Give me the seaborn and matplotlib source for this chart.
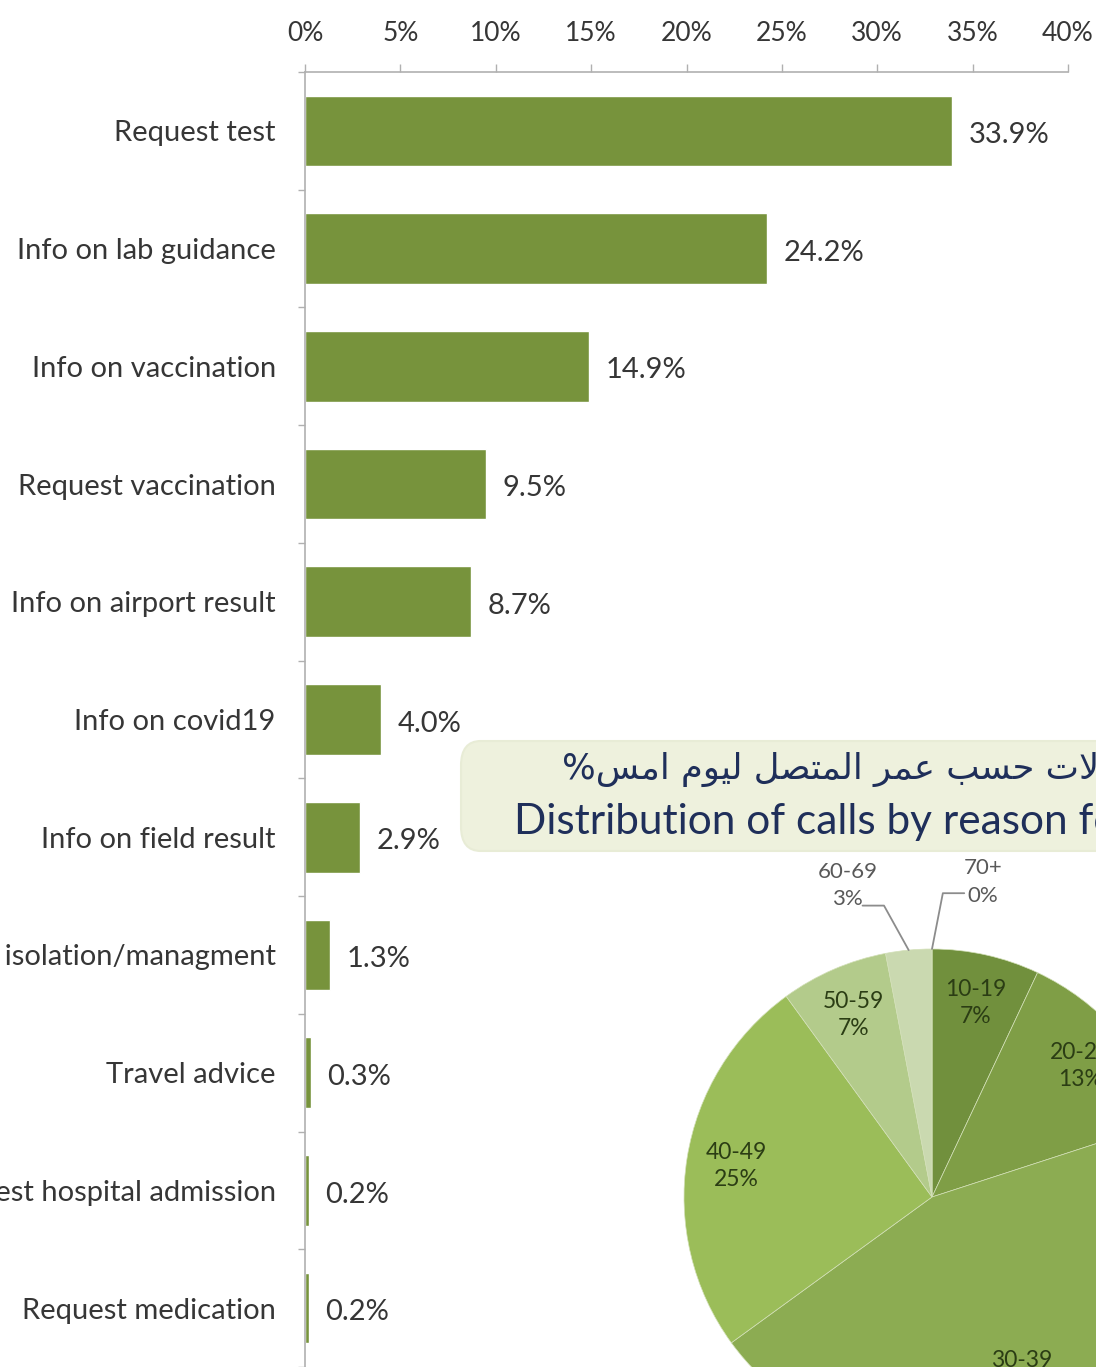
import matplotlib
matplotlib.use("Agg")
import matplotlib.pyplot as plt
import seaborn as sns
import pandas as pd
import numpy as np
from matplotlib.patches import FancyBboxPatch

# ---------------- data ----------------
reasons = [
    "Request test",
    "Info on lab guidance",
    "Info on vaccination",
    "Request vaccination",
    "Info on airport result",
    "Info on covid19",
    "Info on field result",
    "Info on isolation/managment",
    "Travel advice",
    "Request hospital admission",
    "Request medication",
]
reason_pct = [33.9, 24.2, 14.9, 9.5, 8.7, 4.0, 2.9, 1.3, 0.3, 0.2, 0.2]
x_ticks = [0, 5, 10, 15, 20, 25, 30, 35, 40]
x_tick_labels = ["0%", "5%", "10%", "15%", "20%", "25%", "30%", "35%", "40%"]

age_groups = ["10-19", "20-29", "30-39", "40-49", "50-59", "60-69", "70+"]
age_pct = [7, 13, 45, 25, 7, 3, 0]
age_colors = ["#71903d", "#7f9e46", "#8cac52", "#9bbd59", "#b3cb8b", "#cad9b0", "#dde7cc"]

title_ar = "توزيع الاتصالات حسب عمر المتصل ليوم امس%"
title_en = "Distribution of calls by reason for calls yesterday"

BAR_COLOR = "#77933c"
TEXT_COLOR = "#363636"
AXIS_COLOR = "#b0b0b0"
TITLE_COLOR = "#1f2f5a"

# ------------- simple Arabic shaping (presentation forms, visual order) -------------
AR_FORMS = {
    "ا": (0xFE8D, 0xFE8E, None, None),
    "ب": (0xFE8F, 0xFE90, 0xFE91, 0xFE92),
    "ت": (0xFE95, 0xFE96, 0xFE97, 0xFE98),
    "ح": (0xFEA1, 0xFEA2, 0xFEA3, 0xFEA4),
    "ر": (0xFEAD, 0xFEAE, None, None),
    "ز": (0xFEAF, 0xFEB0, None, None),
    "س": (0xFEB1, 0xFEB2, 0xFEB3, 0xFEB4),
    "ص": (0xFEB9, 0xFEBA, 0xFEBB, 0xFEBC),
    "ع": (0xFEC9, 0xFECA, 0xFECB, 0xFECC),
    "ل": (0xFEDD, 0xFEDE, 0xFEDF, 0xFEE0),
    "م": (0xFEE1, 0xFEE2, 0xFEE3, 0xFEE4),
    "ن": (0xFEE5, 0xFEE6, 0xFEE7, 0xFEE8),
    "و": (0xFEED, 0xFEEE, None, None),
    "ي": (0xFEF1, 0xFEF2, 0xFEF3, 0xFEF4),
}


def shape_arabic(text):
    chars = list(text)
    n = len(chars)
    out = []

    def dual(c):
        return c in AR_FORMS and AR_FORMS[c][2] is not None

    i = 0
    while i < n:
        c = chars[i]
        if c not in AR_FORMS:
            out.append(c)
            i += 1
            continue
        prev = chars[i - 1] if i > 0 else None
        prev_joins = prev is not None and dual(prev)
        if c == "ل" and i + 1 < n and chars[i + 1] == "ا":
            out.append(chr(0xFEFC if prev_joins else 0xFEFB))
            i += 2
            continue
        nxt = chars[i + 1] if i + 1 < n else None
        next_joins = nxt is not None and nxt in AR_FORMS and dual(c)
        iso, fin, ini, med = AR_FORMS[c]
        if prev_joins and next_joins:
            g = med
        elif prev_joins:
            g = fin
        elif next_joins:
            g = ini
        else:
            g = iso
        out.append(chr(g))
        i += 1
    return "".join(reversed(out))


# ---------------- figure ----------------
sns.set_style("white")
plt.rcParams["font.family"] = ["Lato", "DejaVu Sans"]

W, H = 1096, 1367
fig = plt.figure(figsize=(W / 100, H / 100), dpi=100)
fig.patch.set_facecolor("white")

ax = fig.add_axes([305 / W, 0, 763 / W, (H - 72) / H])
df = pd.DataFrame({"reason": reasons, "pct": reason_pct})
sns.barplot(data=df, x="pct", y="reason", orient="h", color=BAR_COLOR,
            saturation=1, width=0.6, ax=ax)
ax.set_xlim(0, 40)
ax.set_ylim(len(reasons) - 0.5, -0.5)
ax.set_xlabel("")
ax.set_ylabel("")

ax.xaxis.tick_top()
ax.set_xticks(x_ticks)
ax.set_xticklabels(x_tick_labels)
ax.tick_params(axis="x", direction="out", length=6, width=1, color=AXIS_COLOR,
               labelsize=19, labelcolor=TEXT_COLOR, pad=13, top=True, bottom=False)

ax.set_yticks(range(len(reasons)))
ax.set_yticklabels(reasons)
ax.set_yticks([i - 0.5 for i in range(len(reasons) + 1)], minor=True)
ax.tick_params(axis="y", which="major", length=0, pad=21, labelsize=21, labelcolor=TEXT_COLOR)
ax.tick_params(axis="y", which="minor", length=5, width=1, color=AXIS_COLOR, left=True)

for s in ["right", "bottom"]:
    ax.spines[s].set_visible(False)
for s in ["top", "left"]:
    ax.spines[s].set_color(AXIS_COLOR)
    ax.spines[s].set_linewidth(1.2)

for i, v in enumerate(reason_pct):
    ax.annotate(f"{v:.1f}%", xy=(v, i), xytext=(12, -3), textcoords="offset points",
                ha="left", va="center", fontsize=21, color=TEXT_COLOR)

# ---------------- title box ----------------
box = FancyBboxPatch((461 / W, (H - 851) / H), 700 / W, 110 / H,
                     boxstyle="round,pad=0,rounding_size=0.018",
                     transform=fig.transFigure, facecolor="#eef1dd",
                     edgecolor="#e8ecd6", linewidth=1.5, zorder=2)
fig.patches.append(box)
fig.text(562 / W, (H - 770) / H, shape_arabic(title_ar), ha="left", va="center",
         fontsize=25.5, color=TITLE_COLOR, family=["DejaVu Sans"], zorder=3)
fig.text(514 / W, (H - 822) / H, title_en, ha="left", va="center",
         fontsize=30.5, color=TITLE_COLOR, zorder=3)

# ---------------- pie ----------------
R = 248
cx, cy = 932, 1197
pax = fig.add_axes([(cx - R) / W, (H - cy - R) / H, 2 * R / W, 2 * R / H])
pax.set_zorder(4)
wedges, _ = pax.pie(age_pct, colors=age_colors, startangle=90, counterclock=False,
                    radius=1, wedgeprops=dict(edgecolor="#d3e0b8", linewidth=0.5))
pax.set_xlim(-1, 1)
pax.set_ylim(-1, 1)
pax.set_aspect("equal")
pax.axis("off")

# outside labels: text centre, leader start, leader angle at the wedge
outside = {
    "60-69": ((-0.34, 1.255), (-0.28, 1.175), 119),
    "70+": ((0.205, 1.27), (0.13, 1.225), 79),
}
for w, lab, v in zip(wedges, age_groups, age_pct):
    mid = np.deg2rad((w.theta1 + w.theta2) / 2)
    txt = f"{lab}\n{v}%"
    if lab in outside:
        (tx, ty), (sx, sy), ang = outside[lab]
        pax.text(tx, ty, txt, ha="center", va="center", fontsize=16,
                 color="#595959", linespacing=1.45, clip_on=False)
        edge = (np.cos(mid), np.sin(mid))
        pax.annotate("", xy=edge, xytext=(sx, sy), annotation_clip=False,
                     arrowprops=dict(arrowstyle="-", color="#8c8c8c", lw=1.3,
                                     shrinkA=0, shrinkB=0,
                                     connectionstyle=f"angle,angleA=0,angleB={ang},rad=0"))
    else:
        r = 0.8
        pax.text(r * np.cos(mid), r * np.sin(mid), txt, ha="center", va="center",
                 fontsize=16.5, color="#2b3d14", linespacing=1.35)

fig.savefig("out.png", dpi=100)
